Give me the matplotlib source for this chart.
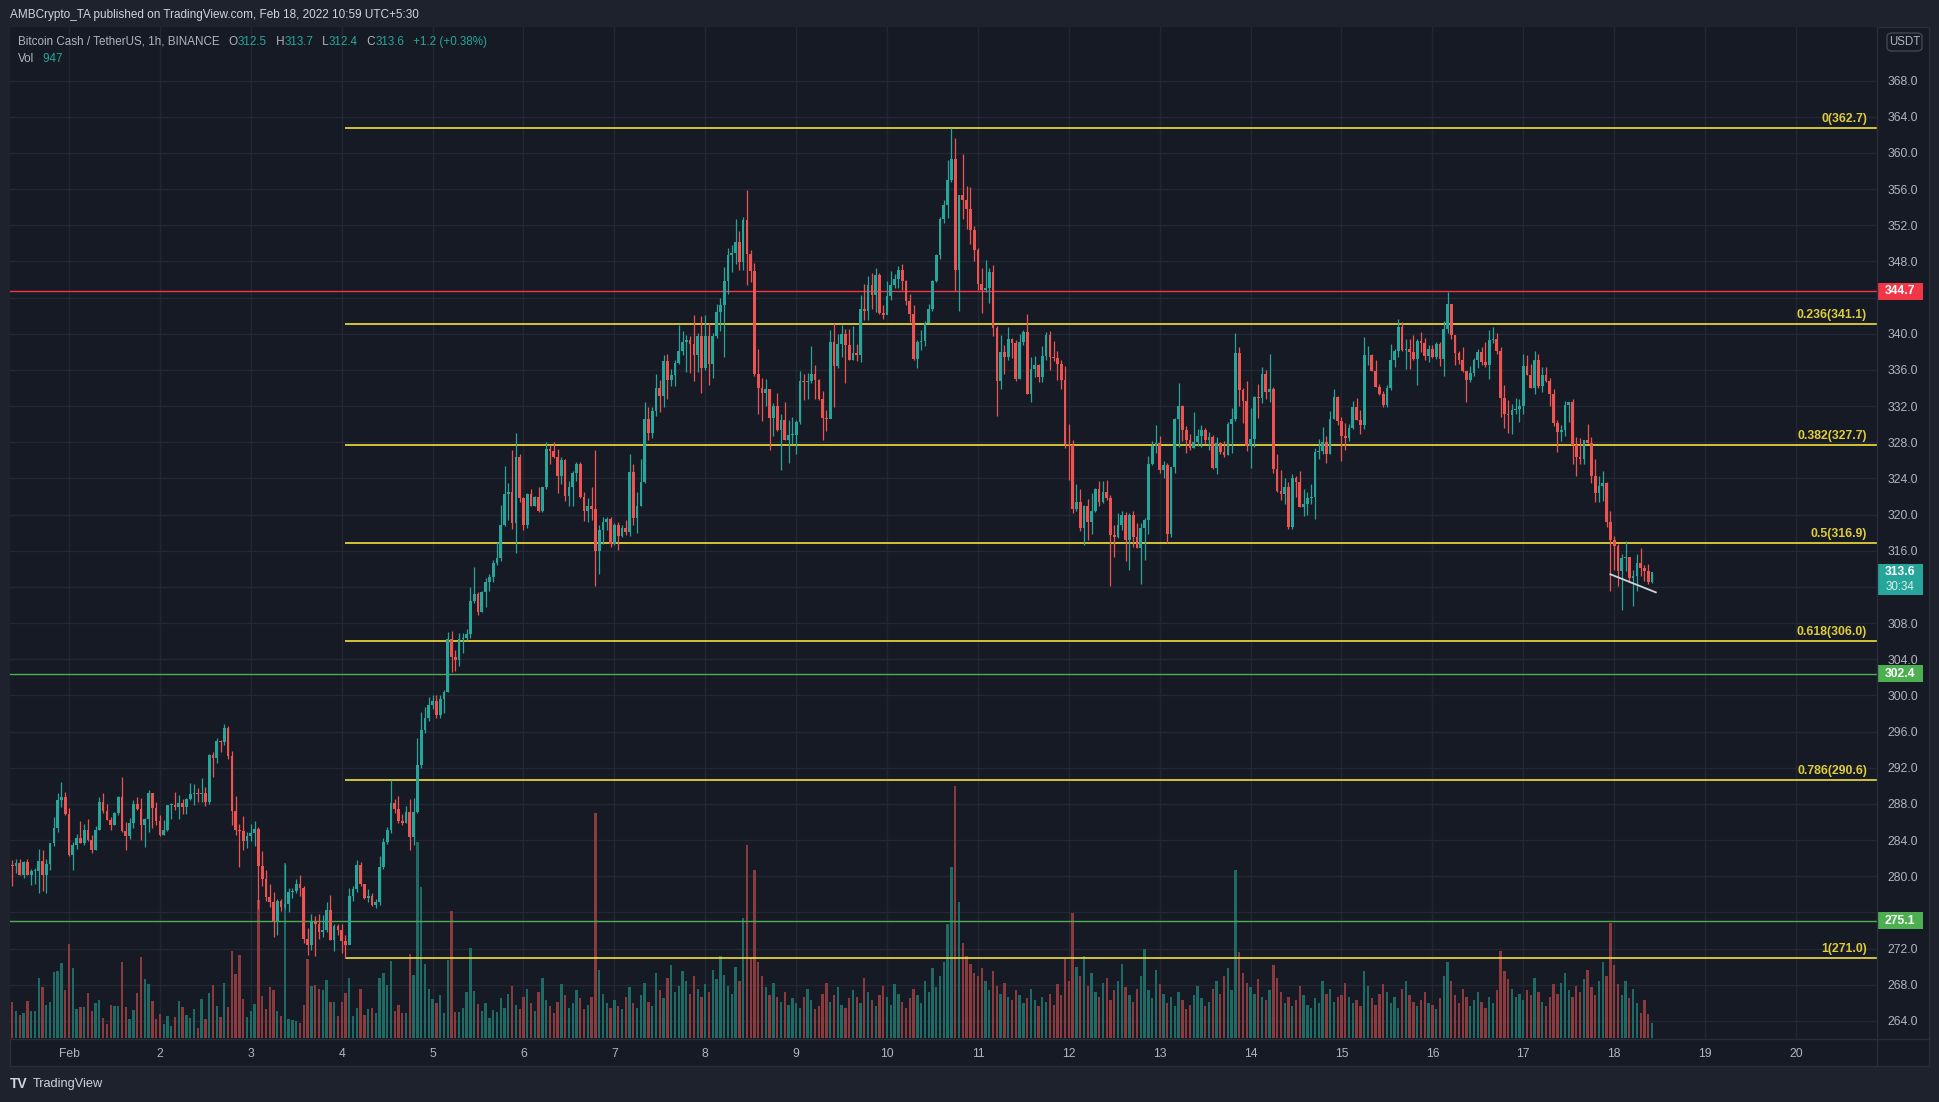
####### BCH/USDT 1h chart (TradingView style snapshot)

import numpy as np
import pandas as pd
import matplotlib
matplotlib.use('Agg')
import matplotlib.pyplot as plt
import matplotlib.dates as mdates
import matplotlib.transforms as mtrans
from matplotlib.patches import Rectangle, FancyBboxPatch
from matplotlib.lines import Line2D

plt.rcParams['font.family'] = ['Liberation Sans', 'DejaVu Sans']

# hourly candles, first one at 2022-01-31 09:00
start = '2022-01-31 09:00'
first_open = 281.3
closes = [
    281.1, 281.5, 280.1, 281.6, 280.1, 280.6, 280.6, 281.7, 280.1, 281.4,
    283.7, 285.3, 288.4, 288.8, 286.9, 282.4, 283.5, 284.2, 283.7, 285.1,
    284.0, 282.9, 285.1, 288.2, 287.2, 286.2, 285.7, 287.0, 288.8, 285.0,
    284.5, 285.9, 288.0, 287.4, 285.7, 286.3, 289.2, 287.6, 286.1, 284.6,
    285.1, 287.9, 287.9, 287.7, 288.1, 287.7, 288.5, 289.1, 289.2, 289.1,
    289.2, 288.2, 293.4, 293.1, 295.0, 294.8, 296.4, 293.3, 287.2, 285.1,
    285.0, 283.9, 284.5, 284.8, 285.2, 281.1, 279.7, 277.7, 277.2, 275.1,
    277.3, 276.6, 276.9, 278.3, 278.4, 279.1, 278.7, 273.1, 272.4, 274.9,
    274.7, 273.8, 274.1, 276.3, 273.0, 274.5, 274.1, 272.9, 272.4, 277.8,
    278.6, 281.2, 279.2, 277.6, 277.8, 276.8, 277.2, 281.0, 283.8, 285.1,
    288.1, 287.4, 286.1, 285.9, 287.1, 284.4, 287.1, 292.3, 296.2, 297.5,
    298.9, 299.4, 297.8, 299.6, 300.4, 306.2, 304.3, 303.9, 306.2, 306.4,
    306.8, 310.5, 311.2, 309.2, 311.4, 312.6, 313.1, 314.6, 315.2, 318.8,
    322.3, 322.5, 319.1, 326.4, 321.8, 318.8, 322.3, 320.9, 321.9, 320.4,
    323.0, 327.3, 327.0, 326.4, 324.3, 326.0, 322.1, 323.0, 324.6, 325.6,
    321.9, 320.4, 321.0, 320.6, 316.0, 318.3, 319.2, 319.5, 316.7, 318.8,
    317.6, 318.5, 318.1, 324.7, 319.6, 320.9, 323.6, 330.6, 329.0, 331.5,
    334.0, 333.1, 337.0, 334.9, 335.4, 336.8, 338.1, 339.1, 339.3, 338.9,
    337.6, 339.8, 336.2, 339.8, 336.6, 339.7, 342.4, 343.2, 345.8, 348.7,
    348.9, 350.1, 347.9, 352.6, 348.8, 346.9, 335.5, 334.0, 333.5, 333.9,
    330.7, 332.0, 329.4, 330.5, 328.3, 328.8, 328.8, 330.2, 334.8, 334.7,
    334.8, 335.5, 334.9, 332.8, 330.7, 330.6, 339.1, 336.4, 338.9, 340.0,
    338.8, 337.1, 337.9, 337.6, 342.7, 342.5, 345.4, 344.3, 346.5, 342.3,
    342.1, 344.2, 345.4, 346.0, 347.0, 345.8, 343.6, 342.2, 337.2, 339.1,
    339.2, 341.2, 342.7, 345.8, 348.7, 352.7, 354.2, 357.0, 359.3, 347.0,
    355.3, 354.8, 353.8, 351.5, 349.3, 345.5, 344.8, 345.1, 346.8, 340.6,
    334.8, 338.0, 337.4, 339.4, 339.0, 335.0, 339.1, 340.2, 333.3, 336.1,
    336.5, 335.2, 337.5, 339.9, 337.4, 337.3, 336.6, 334.9, 327.8, 327.7,
    320.6, 321.4, 318.5, 320.9, 319.2, 320.4, 322.8, 321.4, 322.5, 321.8,
    317.7, 317.5, 318.8, 320.0, 317.2, 319.9, 317.5, 316.3, 318.5, 319.4,
    325.6, 327.6, 327.9, 324.9, 325.5, 317.9, 325.3, 330.6, 332.0, 329.3,
    328.3, 327.4, 328.0, 328.7, 329.3, 328.3, 328.6, 325.1, 327.9, 326.9,
    326.6, 330.0, 330.6, 337.9, 333.8, 332.6, 327.6, 328.4, 333.0, 332.9,
    335.5, 333.6, 333.9, 325.0, 322.6, 322.3, 323.0, 318.6, 324.1, 323.6,
    320.8, 321.2, 321.8, 322.0, 326.9, 327.0, 328.0, 326.7, 330.6, 333.0,
    330.3, 328.7, 328.5, 329.6, 331.9, 330.5, 329.9, 337.6, 337.6, 335.9,
    334.1, 333.3, 332.1, 334.0, 337.1, 338.1, 340.8, 338.2, 338.3, 338.0,
    337.2, 339.2, 339.0, 337.5, 338.3, 337.4, 338.9, 337.2, 340.5, 343.3,
    339.9, 337.9, 337.1, 335.9, 334.9, 335.7, 337.1, 338.0, 336.9, 336.5,
    339.3, 339.4, 338.1, 332.9, 331.1, 331.0, 331.6, 331.7, 332.0, 336.4,
    335.4, 334.0, 337.1, 334.2, 335.4, 334.8, 333.3, 330.1, 329.1, 329.3,
    332.1, 332.4, 327.7, 326.4, 326.1, 328.3, 327.9, 324.3, 322.4, 323.2,
    323.5, 319.2, 317.2, 316.5, 313.8, 315.2, 315.3, 313.0, 313.2, 314.6,
    314.1, 313.8, 312.5, 313.6]

highs = [
    281.8, 281.9, 281.9, 281.7, 281.9, 280.8, 280.9, 283.0, 282.9, 281.9,
    283.7, 286.6, 289.2, 290.4, 289.3, 287.6, 283.8, 284.7, 286.1, 285.8,
    286.3, 284.6, 285.6, 288.8, 289.2, 288.0, 286.6, 287.1, 288.9, 291.0,
    286.0, 286.4, 288.4, 288.8, 288.7, 286.4, 289.5, 289.2, 288.2, 286.8,
    286.2, 287.9, 288.1, 289.3, 289.0, 288.5, 288.7, 290.3, 290.2, 289.8,
    290.9, 289.9, 293.5, 293.7, 295.3, 295.1, 296.8, 296.6, 293.9, 288.9,
    285.8, 286.7, 284.9, 285.8, 286.1, 285.4, 282.8, 280.7, 279.1, 278.3,
    277.5, 277.5, 281.4, 278.7, 278.7, 279.7, 280.1, 278.9, 274.3, 275.8,
    275.6, 275.8, 275.7, 277.2, 277.9, 274.7, 274.7, 274.7, 273.5, 278.7,
    278.9, 281.8, 281.6, 279.2, 278.6, 278.1, 277.5, 282.3, 284.2, 285.5,
    290.6, 288.5, 288.9, 286.9, 287.8, 288.5, 288.7, 295.3, 298.2, 298.7,
    299.8, 300.1, 300.1, 300.1, 300.6, 307.0, 307.1, 305.0, 306.9, 306.9,
    307.3, 312.0, 314.2, 311.4, 311.5, 313.0, 313.4, 315.0, 317.0, 321.1,
    325.4, 323.5, 327.1, 329.0, 326.7, 321.9, 322.4, 322.8, 322.1, 323.0,
    323.1, 328.0, 327.7, 328.0, 327.3, 326.4, 326.1, 323.7, 324.8, 325.8,
    325.8, 322.5, 321.8, 323.0, 327.1, 318.8, 319.7, 319.7, 319.7, 319.1,
    319.2, 318.9, 319.4, 326.7, 325.6, 322.5, 326.1, 332.4, 331.9, 331.9,
    335.5, 334.9, 337.7, 337.8, 336.1, 337.1, 341.0, 340.3, 339.9, 339.7,
    342.1, 340.1, 342.0, 342.1, 341.2, 340.1, 343.3, 344.0, 347.4, 349.5,
    349.8, 352.7, 351.4, 352.9, 355.9, 349.3, 347.8, 338.3, 335.1, 335.0,
    333.9, 332.3, 333.5, 331.1, 332.4, 330.5, 330.8, 330.5, 335.9, 335.5,
    335.7, 338.6, 336.5, 335.0, 333.7, 331.6, 340.4, 341.2, 340.0, 341.0,
    340.5, 340.5, 340.9, 338.9, 344.3, 345.5, 346.4, 346.7, 347.3, 346.7,
    343.2, 345.8, 346.9, 346.6, 347.5, 347.7, 345.9, 344.4, 343.2, 339.3,
    340.4, 341.4, 343.3, 345.9, 348.8, 352.9, 354.8, 359.2, 362.7, 361.6,
    355.3, 359.9, 356.3, 356.2, 351.9, 349.5, 347.3, 348.2, 347.3, 347.6,
    340.9, 339.9, 338.7, 340.7, 339.5, 339.3, 340.0, 340.4, 342.2, 337.4,
    337.5, 336.6, 338.6, 340.2, 340.3, 339.2, 338.1, 337.1, 336.4, 330.0,
    328.2, 323.4, 322.8, 321.1, 321.7, 322.4, 322.9, 323.7, 323.7, 323.8,
    322.2, 318.8, 320.2, 320.4, 320.3, 320.2, 320.4, 319.1, 319.1, 319.6,
    326.5, 328.1, 329.9, 328.7, 325.9, 325.7, 325.3, 330.7, 334.5, 332.1,
    329.8, 328.9, 331.3, 329.5, 329.9, 329.6, 329.1, 328.8, 328.6, 328.0,
    328.1, 330.2, 331.8, 340.1, 338.5, 334.0, 334.8, 331.8, 333.1, 334.4,
    336.3, 336.0, 337.8, 334.1, 326.7, 324.9, 324.0, 323.6, 324.5, 324.3,
    324.8, 322.8, 322.5, 323.4, 327.4, 328.4, 329.7, 328.7, 331.5, 333.9,
    333.1, 330.8, 330.1, 330.0, 332.6, 332.9, 331.6, 339.6, 338.6, 337.8,
    337.1, 334.4, 333.7, 334.3, 338.9, 338.3, 341.6, 341.3, 339.4, 339.4,
    339.9, 339.4, 340.2, 339.5, 338.7, 338.7, 339.1, 339.1, 341.4, 344.6,
    343.3, 339.9, 338.1, 338.5, 335.9, 336.4, 337.3, 338.3, 338.5, 339.1,
    340.4, 340.8, 340.1, 338.5, 334.3, 332.7, 332.2, 332.9, 332.8, 337.8,
    337.6, 336.6, 338.1, 337.8, 336.3, 336.3, 335.1, 333.9, 330.5, 329.9,
    332.6, 332.4, 332.8, 328.6, 328.5, 328.3, 330.0, 328.6, 326.1, 324.3,
    324.8, 323.6, 320.4, 317.6, 316.7, 315.6, 317.1, 315.3, 313.9, 315.6,
    316.3, 314.4, 314.5, 313.7]

lows = [
    278.9, 280.4, 280.1, 279.8, 280.1, 279.0, 279.2, 278.2, 278.4, 278.2,
    280.7, 283.3, 284.9, 287.7, 286.8, 282.3, 280.7, 283.0, 283.7, 283.5,
    283.9, 282.6, 282.9, 285.1, 287.0, 286.2, 285.1, 285.7, 286.8, 284.9,
    282.9, 284.1, 285.3, 287.3, 284.0, 283.2, 284.9, 285.3, 285.7, 284.5,
    284.6, 285.0, 286.3, 287.3, 286.3, 286.9, 286.9, 288.4, 287.9, 288.2,
    288.2, 287.8, 288.0, 291.0, 292.5, 293.7, 294.5, 293.0, 285.7, 284.6,
    281.0, 282.9, 283.1, 283.9, 283.4, 276.4, 278.9, 277.3, 276.6, 273.3,
    273.5, 276.2, 276.4, 276.1, 277.6, 278.2, 277.8, 272.6, 271.3, 271.8,
    271.2, 273.1, 273.3, 273.8, 273.0, 271.7, 273.5, 271.5, 271.0, 272.5,
    277.3, 278.3, 278.9, 277.5, 277.2, 276.7, 276.5, 276.8, 280.8, 283.6,
    284.8, 287.0, 285.9, 285.7, 285.9, 282.9, 283.5, 287.0, 292.0, 295.9,
    297.2, 298.5, 297.5, 297.5, 298.1, 300.4, 302.6, 302.7, 303.3, 304.7,
    306.1, 306.3, 310.2, 308.9, 309.2, 309.8, 311.6, 312.5, 314.4, 314.9,
    318.7, 319.4, 318.4, 315.8, 321.4, 318.3, 318.5, 320.9, 320.9, 320.3,
    320.3, 322.8, 325.6, 326.3, 322.4, 323.4, 321.5, 321.0, 321.0, 323.7,
    321.8, 319.3, 319.2, 319.4, 312.1, 313.4, 316.8, 318.3, 316.4, 316.6,
    316.1, 317.5, 317.7, 317.6, 318.8, 318.0, 320.9, 323.5, 328.3, 328.5,
    330.9, 331.4, 331.9, 332.8, 334.2, 334.2, 336.6, 337.7, 335.8, 335.7,
    334.8, 335.8, 333.5, 336.0, 334.3, 335.1, 339.5, 340.3, 337.4, 344.4,
    346.8, 347.7, 347.0, 347.0, 345.4, 345.7, 335.3, 331.1, 330.4, 332.0,
    327.1, 328.7, 329.2, 324.9, 328.3, 325.7, 327.8, 326.7, 330.0, 332.7,
    332.8, 334.6, 332.8, 332.7, 328.3, 329.2, 330.7, 331.9, 336.2, 337.4,
    334.6, 337.1, 337.1, 337.0, 336.9, 341.5, 341.5, 342.7, 342.4, 342.2,
    341.6, 342.4, 343.7, 345.1, 345.1, 344.8, 343.2, 341.3, 337.1, 336.2,
    338.2, 338.6, 341.2, 342.5, 345.7, 348.3, 352.2, 352.8, 356.8, 344.7,
    342.5, 352.7, 351.6, 349.9, 348.0, 344.8, 342.3, 344.6, 343.4, 339.8,
    330.9, 333.9, 335.5, 337.1, 337.3, 334.8, 335.0, 338.8, 333.3, 332.4,
    335.2, 334.7, 334.7, 337.1, 336.0, 337.0, 334.9, 333.9, 327.4, 323.8,
    320.2, 320.4, 318.2, 316.6, 317.2, 317.8, 320.3, 320.9, 321.3, 321.6,
    312.1, 315.3, 317.4, 318.3, 314.9, 313.9, 316.4, 316.3, 312.3, 315.0,
    317.9, 325.5, 326.8, 324.6, 324.0, 316.9, 317.5, 324.6, 327.5, 328.1,
    326.8, 327.1, 327.4, 327.6, 327.5, 327.8, 327.1, 325.0, 324.5, 326.7,
    326.4, 326.6, 326.8, 330.3, 332.0, 330.1, 327.0, 325.1, 327.5, 330.7,
    332.3, 332.8, 332.4, 324.6, 322.5, 321.6, 321.2, 318.4, 318.4, 321.9,
    320.8, 319.8, 319.9, 321.2, 319.5, 326.1, 326.7, 325.7, 326.7, 330.6,
    329.9, 325.9, 327.1, 328.1, 329.5, 330.5, 328.9, 329.5, 336.5, 335.9,
    334.1, 333.2, 331.9, 331.9, 333.8, 336.3, 337.4, 338.1, 336.1, 336.1,
    337.1, 334.3, 338.0, 337.1, 336.9, 337.3, 337.2, 336.4, 335.3, 340.1,
    339.4, 336.5, 336.6, 335.8, 332.4, 334.7, 335.3, 336.2, 336.5, 336.3,
    335.0, 339.0, 337.8, 330.8, 329.6, 329.0, 328.9, 331.1, 330.2, 331.1,
    335.4, 334.0, 333.3, 334.0, 333.6, 334.7, 332.0, 329.8, 326.9, 328.1,
    328.7, 330.2, 325.6, 324.3, 325.6, 325.6, 327.9, 323.5, 321.4, 321.4,
    321.5, 318.6, 311.6, 313.9, 312.1, 309.4, 313.8, 312.5, 309.9, 311.5,
    313.2, 312.7, 312.3, 312.4]

volumes = [
    2290, 1680, 1470, 1580, 2350, 1680, 1700, 3800, 3230, 2100,
    2290, 4180, 4240, 4750, 3050, 5940, 4430, 1850, 1970, 1970,
    2810, 1720, 2230, 2390, 1260, 900, 2060, 2020, 2020, 4810,
    1970, 1220, 1760, 2810, 5120, 3740, 3420, 2350, 1220, 1510,
    900, 1390, 780, 1340, 2350, 1970, 1470, 1260, 1850, 650,
    2480, 1220, 2810, 3360, 2020, 1340, 3490, 1970, 5500, 4050,
    5250, 2480, 1340, 1680, 2160, 8720, 2670, 1850, 3230, 3050,
    1720, 1410, 11050, 1220, 1160, 1090, 970, 2100, 5000, 3300,
    3360, 3110, 3050, 3680, 2290, 2270, 1410, 2290, 2860, 3800,
    1410, 1910, 3110, 1470, 1850, 1910, 1600, 3800, 4120, 3360,
    4870, 1720, 2100, 1600, 1600, 5310, 3990, 12370, 9530, 4680,
    3110, 2480, 2230, 2730, 1600, 4940, 8020, 1660, 1660, 1910,
    2920, 5690, 2980, 2160, 1720, 2230, 1280, 1790, 1660,
    2500, 1900, 2800, 3300, 2100, 1800,
    2600, 3100, 2200, 1700, 2900, 3800, 2400, 2000, 1600, 2300, 3400, 2700,
    1900, 2200, 3000, 2500, 1800, 2100, 2600, 14200, 4300, 2800, 2200, 1900,
    2400, 2000, 1800, 2600, 3200, 2200, 1900, 2700, 3500, 2300, 2000, 4100,
    3000, 2500, 3800, 4600, 2900, 3300, 4200, 3600, 2800, 3900, 3100, 2600,
    3400, 2900, 4300, 3700, 5200, 4000, 3300, 2800, 4500, 3600, 7600, 12200,
    5100, 10600, 4800, 3900, 3200, 2700, 3500, 2600, 2300, 2900, 2100, 2500,
    2200, 1900, 2600, 3100, 2400, 1800, 2000, 2800, 3500, 2300, 2700, 3200,
    2100, 1900, 2500, 3000, 2600, 2200, 3800, 2900, 2400, 2000, 2700, 3300,
    2600, 2100, 3400, 2800, 2300, 1900, 2500, 3100, 2700, 2200, 3600, 2900,
    4400, 3200, 3900, 4800, 7200, 10800, 15900, 8600, 6000, 5200, 4700, 4100,
    3900, 4400, 3600, 3000, 4200, 3300, 2800, 3500, 2600, 2400, 3000, 2700,
    2200, 2500, 3100, 2400, 2000, 2600, 2300, 2800, 2100, 3400, 2700, 5000,
    3600, 7900, 4500, 3900, 5200, 3300, 4100, 2900, 2600, 3500, 3800, 2400,
    3000, 3600, 4700, 3200, 2700, 2300, 3100, 3900, 5600, 3000, 2500, 4300,
    3400, 2800, 2200, 2600, 2000, 2900, 2400, 1800, 2100, 2700, 3300, 2500,
    2000, 2300, 3100, 3600, 2800, 3900, 4400, 3000, 10600, 5400, 4100, 3500,
    3200, 2800, 3700, 2600, 2400, 3000, 4600, 3800, 2900, 2200, 2600, 2000,
    2400, 3300, 2700, 2100, 1900, 2500, 2200, 3600, 2800, 3100, 2300, 2600,
    2700, 3500, 2600, 2200, 2400, 2000, 4200, 3300, 2500, 2100, 2800, 3400,
    2900, 2200, 2600, 1900, 3100, 3600, 2700, 2300, 2000, 2400, 2900, 2200,
    2100, 1800, 2500, 3900, 4800, 3600, 2700, 2200, 3100, 2600, 2000, 2400,
    2900, 2300, 1900, 2600, 2200, 3000, 5500, 4200, 3700, 3100, 2600, 2800,
    2400, 3000, 2700, 3800, 2900, 2300, 2000, 2600, 3400, 2800, 3500, 4100,
    3000, 2600, 3300, 2900, 3700, 4300, 3200, 2700, 3600, 4800, 3900, 7250,
    4600, 3400, 2700, 3600, 2500, 3100, 2200, 1600, 2400, 1500, 950]

# fibonacci retracement drawn from the Feb 4 low to the Feb 10 high
fib_low = 271.0
fib_high = 362.7
fib_ratios = [0, 0.236, 0.382, 0.5, 0.618, 0.786, 1]
fib_from = '2022-02-04 01:00'

# horizontal levels
level_prices = [344.7, 302.4, 275.1]
level_colors = ['#f23645', '#4caf50', '#4caf50']

# small white trendline on the last candles
trend_times = ['2022-02-17 23:00', '2022-02-18 11:00']
trend_prices = [313.4, 311.4]

last_price = 313.6
countdown = '30:34'
day_labels = ['Feb'] + [str(d) for d in range(2, 21)]
price_ticks = list(range(264, 369, 4))

# colours
UP = '#26a69a'
DOWN = '#ef5350'
BG = '#161a25'
OUTER = '#1e222d'
GRID = '#232733'
BORDER = '#2a2e39'
TXT = '#b2b5be'
FIB_LINE = '#f2df3a'
FIB_TXT = '#dfcd3b'

W, H = 1940, 1102
# plot box in pixels (left, top, right, bottom)
PL, PT, PR, PB = 10, 27, 1877, 1038
YMIN, YMAX = 262.12, 373.92
VOL_TOP = 63800  # volume that would fill the full pane height
ppu = (PB - PT) / (YMAX - YMIN)  # pixels per price unit


def fx(px):
    return px / W


def fy(py):
    return 1 - py / H


times = pd.date_range(start, periods=len(closes), freq='h')
x = mdates.date2num(times)
c = np.array(closes)
o = np.array([first_open] + closes[:-1])
hi = np.array(highs)
lo = np.array(lows)
up = c >= o
colors = np.where(up, UP, DOWN)
vol_colors = np.where(up, '#1e6b66', '#8b3b3d')

fig = plt.figure(figsize=(W / 100, H / 100), dpi=100, facecolor=OUTER)

# chart panel background (behind the axes)
fig.patches.append(Rectangle((fx(10), fy(1066)), fx(1929) - fx(10), fy(27) - fy(1066),
                             transform=fig.transFigure, facecolor=BG, edgecolor=BORDER,
                             lw=1, zorder=-5))

ax = fig.add_axes([fx(PL), fy(PB), fx(PR) - fx(PL), fy(PT) - fy(PB)])
ax.set_facecolor(BG)
ax.set_axisbelow(True)

hour = 1 / 24
xl = mdates.date2num(pd.Timestamp('2022-01-31 08:25'))
xr = mdates.date2num(pd.Timestamp('2022-02-20 21:24'))

# volume bars in the bottom of the pane
vol_tr = mtrans.blended_transform_factory(ax.transData, ax.transAxes)
ax.bar(x, np.array(volumes) / VOL_TOP, width=0.62 * hour, bottom=0, color=vol_colors,
       transform=vol_tr, zorder=1, linewidth=0)

# horizontal levels
for p, col in zip(level_prices, level_colors):
    ax.axhline(p, color=col, lw=1.0, zorder=2)

# fibonacci levels
fib_x0 = mdates.date2num(pd.Timestamp(fib_from))
lbl_tr = mtrans.blended_transform_factory(ax.transAxes, ax.transData)
for r in fib_ratios:
    lvl = fib_high - r * (fib_high - fib_low)
    ax.hlines(lvl, fib_x0, xr, colors=FIB_LINE, lw=1.2, zorder=2)
    ax.annotate(f'{r:g}({lvl + 1e-6:.1f})', xy=(1, lvl), xycoords=lbl_tr,
                xytext=(-10, 3), textcoords='offset pixels', ha='right', va='bottom',
                color=FIB_TXT, fontsize=8.8, fontweight='bold', zorder=4)

# candles
ax.vlines(x, lo, hi, colors=colors, lw=0.9, zorder=3)
body_lo = np.minimum(o, c)
body_h = np.maximum(np.abs(c - o), 0.1)
ax.bar(x, body_h, bottom=body_lo, width=0.72 * hour, color=colors, linewidth=0, zorder=3.1)

# white trendline
tt = mdates.date2num(pd.to_datetime(trend_times))
ax.plot(tt, trend_prices, color='#d1d4dc', lw=1.3, zorder=4)

ax.set_xlim(xl, xr)
ax.set_ylim(YMIN, YMAX)

# grid + axes
days = pd.date_range('2022-02-01', periods=len(day_labels), freq='D')
ax.set_xticks(mdates.date2num(days))
ax.set_xticklabels(day_labels)
ax.set_yticks(price_ticks)
ax.yaxis.set_major_formatter('{x:.1f}')
ax.yaxis.tick_right()
ax.tick_params(axis='y', length=0, pad=7.3, labelcolor=TXT, labelsize=8.7)
ax.tick_params(axis='x', length=0, pad=7.5, labelcolor=TXT, labelsize=8.7)
ax.grid(True, color=GRID, lw=1.0)
for s in ax.spines.values():
    s.set_visible(False)

# hide the price ticks that sit under a price tag (they are covered in the original)
for lab, tv in zip(ax.get_yticklabels(), price_ticks):
    if any(abs(tv - p) < 1.5 for p in level_prices) or -2.5 < tv - last_price < 0:
        lab.set_visible(False)

# price axis tags
tag_w = 46 / (PR - PL)


def price_tag(p, color, text, up_px=8.5, down_px=8.5, sub=None):
    ax.add_patch(Rectangle((1.0, p - down_px / ppu), tag_w, (up_px + down_px) / ppu,
                           transform=lbl_tr, facecolor=color, edgecolor='none',
                           clip_on=False, zorder=6))
    ax.text(1.0 + tag_w / 2, p, text, transform=lbl_tr, ha='center', va='center',
            color='white', fontsize=8.7, fontweight='bold', zorder=7, clip_on=False)
    if sub:
        ax.text(1.0 + tag_w / 2, p - 14.5 / ppu, sub, transform=lbl_tr, ha='center',
                va='center', color='#d8efec', fontsize=8.4, zorder=7, clip_on=False)


for p, col in zip(level_prices, level_colors):
    price_tag(p, col, f'{p:.1f}')
price_tag(last_price, UP, f'{last_price:.1f}', up_px=8.5, down_px=22.5, sub=countdown)

# separators of the panel
fig.add_artist(Line2D([fx(PR)] * 2, [fy(27), fy(1066)], color=BORDER, lw=1,
                      transform=fig.transFigure))
fig.add_artist(Line2D([fx(10), fx(1929)], [fy(1039)] * 2, color=BORDER, lw=1,
                      transform=fig.transFigure))

# USDT box
fig.patches.append(FancyBboxPatch((fx(1887), fy(51)), fx(1922) - fx(1887), fy(33) - fy(51),
                                  boxstyle='round,pad=0,rounding_size=0.003',
                                  transform=fig.transFigure, facecolor='none',
                                  edgecolor='#434651', lw=1))
fig.text(fx(1904.5), fy(42), 'USDT', ha='center', va='center', color=TXT, fontsize=8.3)

# header texts
fig.text(fx(10), fy(15), 'AMBCrypto_TA published on TradingView.com, Feb 18, 2022 10:59 UTC+5:30',
         color='#d1d4dc', fontsize=8.5, va='center')


def chain(x_px, y_px, parts, size):
    t = fig.text(fx(x_px), fy(y_px), parts[0][0], color=parts[0][1], fontsize=size,
                 va='center', zorder=8)
    for s, col in parts[1:]:
        t = ax.annotate(s, xy=(1, 0.5), xycoords=t, ha='left', va='center',
                        color=col, fontsize=size, annotation_clip=False, zorder=8)


chain(18, 42, [('Bitcoin Cash / TetherUS, 1h, BINANCE', TXT), ('\u2002 O', TXT), ('312.5', UP),
               ('\u2002 H', TXT), ('313.7', UP), ('\u2002 L', TXT), ('312.4', UP),
               ('\u2002 C', TXT), ('313.6', UP), ('\u2002 +1.2 (+0.38%)', UP)], 8.4)
chain(18, 59, [('Vol', TXT), ('\u2002 947', UP)], 8.4)

# tradingview mark at the bottom
fig.text(fx(10), fy(1084), 'TV', color='#d1d4dc', fontsize=10, fontweight='bold', va='center')
fig.text(fx(33), fy(1084), 'TradingView', color='#d1d4dc', fontsize=9.2, va='center')

plt.savefig('out.png', dpi=100, facecolor=OUTER)
plt.close()
